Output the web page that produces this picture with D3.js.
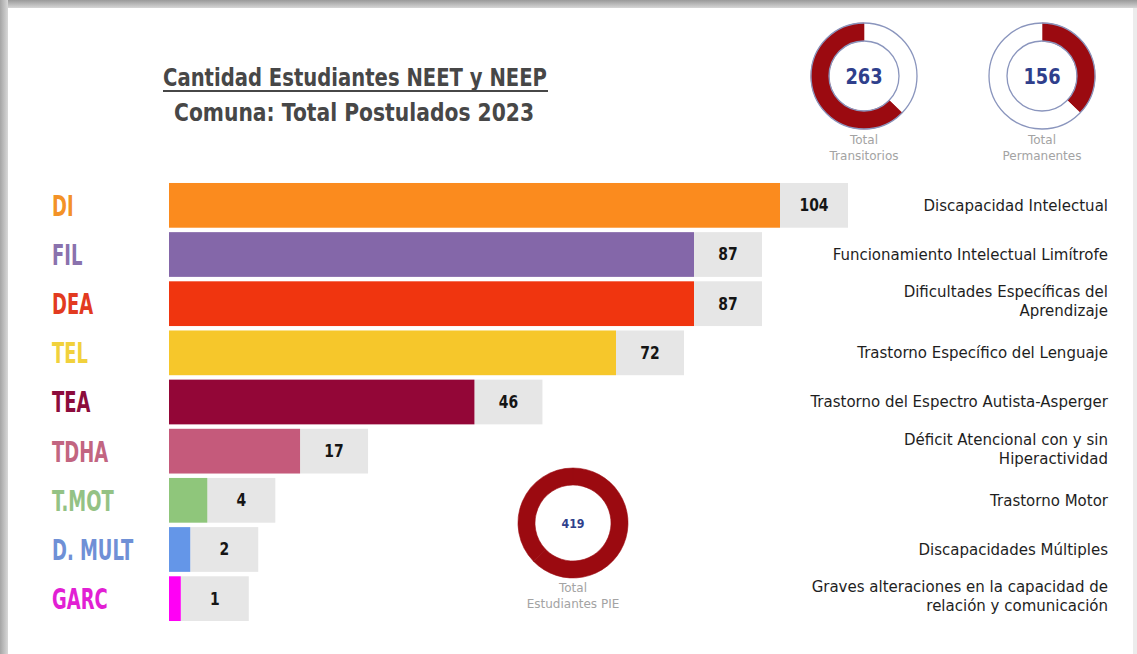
<!DOCTYPE html>
<html>
<head>
<meta charset="utf-8">
<script src="https://cdn.jsdelivr.net/npm/d3@7"></script>
<style>
  body { margin: 0; background: #fff; }
  svg { display: block; }
</style>
</head>
<body>
<svg id="chart"></svg>
<script>
var codes = ["DI", "FIL", "DEA", "TEL", "TEA", "TDHA", "T.MOT", "D. MULT", "GARC"];
var values = [104, 87, 87, 72, 46, 17, 4, 2, 1];
var barColors = ["#fb8b1e", "#8467a9", "#f0350f", "#f6c72b", "#930637", "#c55a7b", "#8fc67b", "#6496e8", "#ff00f5"];
var codeColors = ["#f39227", "#8a72ad", "#e23a20", "#f1d13c", "#8c0c3c", "#c26581", "#94c285", "#6f90d6", "#e21fd4"];
var descriptions = [
    ["Discapacidad Intelectual"],
    ["Funcionamiento Intelectual Limítrofe"],
    ["Dificultades Específicas del", "Aprendizaje"],
    ["Trastorno Específico del Lenguaje"],
    ["Trastorno del Espectro Autista-Asperger"],
    ["Déficit Atencional con y sin", "Hiperactividad"],
    ["Trastorno Motor"],
    ["Discapacidades Múltiples"],
    ["Graves alteraciones en la capacidad de", "relación y comunicación"]
];
var totalTransitorios = 263;
var totalPermanentes = 156;
var totalPIE = 419;

var width = 1137, height = 654;
var narrow = "'DejaVu Sans', sans-serif";
var red = "#9b0a10";
var ringLine = "#8a95bd";

var svg = d3.select("#chart")
    .attr("width", width)
    .attr("height", height);

// frame / card
var defs = svg.append("defs");
var gTop = defs.append("linearGradient").attr("id", "gtop").attr("x1", 0).attr("y1", 0).attr("x2", 0).attr("y2", 1);
gTop.append("stop").attr("offset", 0).attr("stop-color", "#9a9a9a");
gTop.append("stop").attr("offset", 1).attr("stop-color", "#d6d6d6");
var gLeft = defs.append("linearGradient").attr("id", "gleft").attr("x1", 0).attr("y1", 0).attr("x2", 1).attr("y2", 0);
gLeft.append("stop").attr("offset", 0).attr("stop-color", "#a5a5a5");
gLeft.append("stop").attr("offset", 1).attr("stop-color", "#d8d8d8");

svg.append("rect").attr("width", width).attr("height", height).attr("fill", "#fff");
svg.append("rect").attr("x", 0).attr("y", 0).attr("width", width).attr("height", 8).attr("fill", "url(#gtop)");
svg.append("rect").attr("x", 0).attr("y", 0).attr("width", 8).attr("height", height).attr("fill", "url(#gleft)");
svg.append("rect").attr("x", 1133).attr("y", 8).attr("width", 4).attr("height", height).attr("fill", "#ececec");

// title
svg.append("text")
    .attr("x", 355).attr("y", 86)
    .attr("text-anchor", "middle")
    .attr("font-family", narrow).attr("font-weight", "bold").attr("font-size", 25)
    .attr("fill", "#474747")
    .attr("textLength", 384).attr("lengthAdjust", "spacingAndGlyphs")
    .text("Cantidad Estudiantes NEET y NEEP");
svg.append("line")
    .attr("x1", 163).attr("x2", 548).attr("y1", 91).attr("y2", 91)
    .attr("stroke", "#474747").attr("stroke-width", 2);
svg.append("text")
    .attr("x", 354).attr("y", 121)
    .attr("text-anchor", "middle")
    .attr("font-family", narrow).attr("font-weight", "bold").attr("font-size", 25)
    .attr("fill", "#474747")
    .attr("textLength", 360).attr("lengthAdjust", "spacingAndGlyphs")
    .text("Comuna: Total Postulados 2023");

// bars
var y = d3.scaleBand()
    .domain(codes)
    .range([182, 622])
    .paddingInner(0.09)
    .paddingOuter(0.02);

var x = d3.scalePow()
    .exponent(0.85)
    .domain([0, 104])
    .range([169, 780]);

var boxW = 68;

var rows = svg.append("g").attr("class", "rows")
    .selectAll("g")
    .data(codes)
    .enter().append("g");

rows.append("rect")
    .attr("x", function(d, i) { return x(values[i]); })
    .attr("y", function(d) { return y(d); })
    .attr("width", boxW)
    .attr("height", y.bandwidth())
    .attr("fill", "#e6e6e6");

rows.append("rect")
    .attr("x", x(0))
    .attr("y", function(d) { return y(d); })
    .attr("width", function(d, i) { return x(values[i]) - x(0); })
    .attr("height", y.bandwidth())
    .attr("fill", function(d, i) { return barColors[i]; });

rows.append("text")
    .attr("transform", function(d, i) {
        return "translate(" + (x(values[i]) + boxW / 2) + "," + (y(d) + y.bandwidth() / 2) + ") scale(0.82,1)";
    })
    .attr("dy", "0.35em")
    .attr("text-anchor", "middle")
    .attr("font-family", narrow).attr("font-weight", "bold").attr("font-size", 17)
    .attr("fill", "#151515")
    .text(function(d, i) { return values[i]; });

// category codes, squeezed to look like the condensed poster font
rows.append("text")
    .attr("transform", function(d) {
        return "translate(52," + (y(d) + y.bandwidth() / 2) + ") scale(0.62,1)";
    })
    .attr("dy", "0.36em")
    .attr("font-family", narrow).attr("font-weight", "bold").attr("font-size", 29)
    .attr("fill", function(d, i) { return codeColors[i]; })
    .text(function(d) { return d; });

// descriptions on the right
rows.each(function(d, i) {
    var lines = descriptions[i];
    var cy = y(d) + y.bandwidth() / 2;
    var t = d3.select(this).append("text")
        .attr("text-anchor", "end")
        .attr("font-family", "'DejaVu Sans', sans-serif")
        .attr("font-size", 15)
        .attr("fill", "#1e1e1e");
    lines.forEach(function(line, k) {
        t.append("tspan")
            .attr("x", 1108)
            .attr("y", cy + (k - (lines.length - 1) / 2) * 19 - (lines.length > 1 ? 2 : 0))
            .attr("dy", "0.35em")
            .text(line);
    });
});

// donut rings
var pie = d3.pie().sort(null).value(function(d) { return d.v; });

function ring(cx, cy, parts, rOut, rIn, label, labelSize, caption, captionY, outline) {
    var g = svg.append("g").attr("transform", "translate(" + cx + "," + cy + ")");
    var arc = d3.arc().innerRadius(rIn).outerRadius(rOut);
    g.selectAll("path")
        .data(pie(parts))
        .enter().append("path")
        .attr("d", arc)
        .attr("fill", function(d) { return d.data.c; })
        .attr("stroke", function(d) { return d.data.c; })
        .attr("stroke-width", 0.6);
    if (outline) {
        g.append("circle").attr("r", rOut).attr("fill", "none").attr("stroke", ringLine).attr("stroke-width", 1.3);
        g.append("circle").attr("r", rIn).attr("fill", "none").attr("stroke", ringLine).attr("stroke-width", 1.3);
    }
    g.append("text")
        .attr("transform", "scale(0.85,1)")
        .attr("dy", "0.36em")
        .attr("text-anchor", "middle")
        .attr("font-family", narrow).attr("font-weight", "bold").attr("font-size", labelSize)
        .attr("fill", "#2f3f8c")
        .text(label);
    caption.forEach(function(line, k) {
        g.append("text")
            .attr("y", captionY + k * 16)
            .attr("text-anchor", "middle")
            .attr("font-family", narrow).attr("font-size", 12)
            .attr("fill", "#a3a3a3")
            .text(line);
    });
}

ring(864, 76,
    [{v: totalPIE - totalTransitorios, c: "#fff"}, {v: totalTransitorios, c: red}],
    53, 35, totalTransitorios, 21, ["Total", "Transitorios"], 68, true);

ring(1042, 76,
    [{v: totalPermanentes, c: red}, {v: totalPIE - totalPermanentes, c: "#fff"}],
    53, 35, totalPermanentes, 21, ["Total", "Permanentes"], 68, true);

ring(573, 523,
    [{v: totalTransitorios, c: red}, {v: totalPermanentes, c: red}],
    55, 38, totalPIE, 13, ["Total", "Estudiantes PIE"], 69, false);
</script>
</body>
</html>
